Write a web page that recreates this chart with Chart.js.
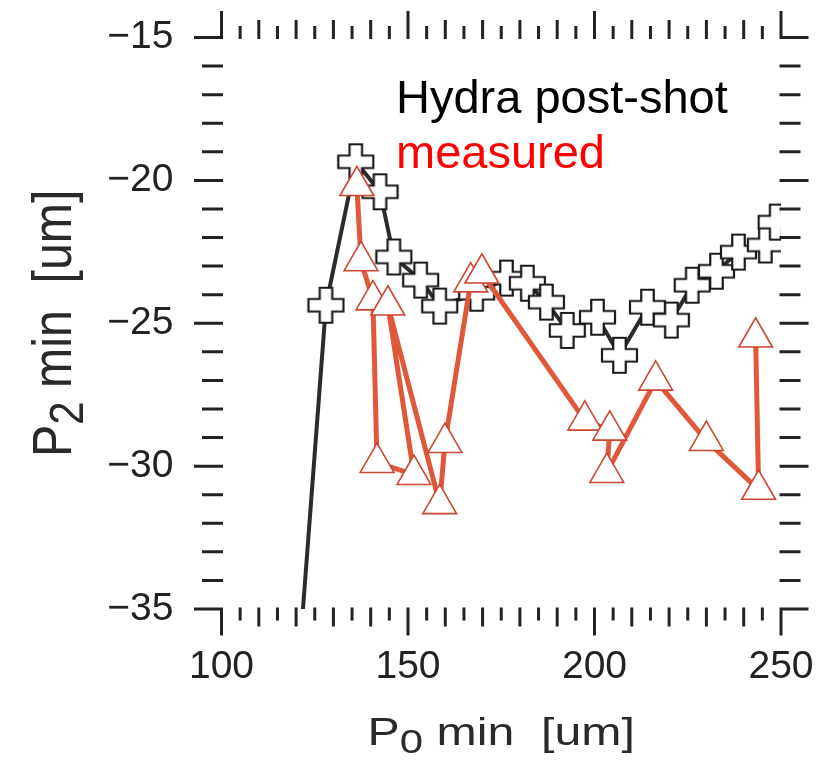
<!DOCTYPE html>
<html>
<head>
<meta charset="utf-8">
<script src="https://cdn.jsdelivr.net/npm/chart.js@4.4.1/dist/chart.umd.min.js"></script>
<style>
  html, body { margin: 0; padding: 0; background: #fff; }
  #wrap { width: 834px; height: 769px; }
</style>
</head>
<body>
<div id="wrap"><canvas id="myChart" width="834" height="769"></canvas></div>
<script>
//Hydra post-shot run: P0 min vs P2 min [um]
var hydraX = [120.1, 128.0, 136.0, 142.5, 146.2, 153.4, 158.5, 168.4, 176.4, 182.0, 187.1, 192.7, 200.8, 206.7, 214.2, 220.6, 226.2, 232.7, 238.6, 245.8, 248.7];
var hydraY = [-38.0, -24.37, -19.35, -20.40, -22.68, -23.49, -24.40, -23.95, -23.42, -23.60, -24.26, -25.25, -24.79, -26.12, -24.44, -24.89, -23.67, -23.18, -22.51, -22.26, -21.46];

//Measured shots, in shot order
var measX = [136.3, 137.4, 140.6, 141.7, 151.6, 144.6, 158.5, 159.9, 166.8, 169.8, 197.4, 204.1, 203.3, 216.4, 230.0, 244.0, 243.2];
var measY = [-20.19, -22.82, -24.19, -29.88, -30.30, -24.37, -31.32, -29.18, -23.56, -23.25, -28.40, -28.75, -30.23, -27.00, -29.11, -30.82, -25.49];

//Tick labels
var xTicks = [100, 150, 200, 250];
var yTicks = [-35, -30, -25, -20, -15];

var labelFont = '"Liberation Sans", Arial, Helvetica, sans-serif';

//Outlined plus marker with white fill
function makePlus(size, arm, lw) {
    var c = document.createElement('canvas');
    c.width = size + 2 * lw;
    c.height = size + 2 * lw;
    var g = c.getContext('2d');
    var h = size / 2, a = arm / 2;
    g.translate(c.width / 2, c.height / 2);
    g.beginPath();
    g.moveTo(-a, -h); g.lineTo(a, -h); g.lineTo(a, -a); g.lineTo(h, -a);
    g.lineTo(h, a); g.lineTo(a, a); g.lineTo(a, h); g.lineTo(-a, h);
    g.lineTo(-a, a); g.lineTo(-h, a); g.lineTo(-h, -a); g.lineTo(-a, -a);
    g.closePath();
    g.fillStyle = '#fff';
    g.fill();
    g.lineWidth = lw;
    g.strokeStyle = '#1a1a1a';
    g.stroke();
    return c;
}
var plusImg = makePlus(35, 12.5, 2.2);

function zip(xs, ys) {
    return xs.map(function(x, i) { return {x: x, y: ys[i]}; });
}

//Outward tick marks on all four sides, legend text and axis titles
var framePlugin = {
    id: 'frame',
    afterDraw: function(chart) {
        var ctx = chart.ctx, a = chart.chartArea;
        var xs = chart.scales.x, ys = chart.scales.y;
        ctx.save();
        ctx.strokeStyle = '#222';
        ctx.lineWidth = 3;
        ctx.lineCap = 'square';
        ctx.beginPath();
        for (var v = 100; v <= 250; v += 5) {
            var len = v % 50 === 0 ? 25 : (v % 10 === 0 ? 16 : 10);
            var px = xs.getPixelForValue(v);
            ctx.moveTo(px, a.bottom); ctx.lineTo(px, a.bottom + len);
            ctx.moveTo(px, a.top); ctx.lineTo(px, a.top - len);
        }
        for (var w = -35; w <= -15; w++) {
            var l2 = w % 5 === 0 ? 26 : 18;
            var py = ys.getPixelForValue(w);
            ctx.moveTo(a.left, py); ctx.lineTo(a.left - l2, py);
            ctx.moveTo(a.right, py); ctx.lineTo(a.right + l2, py);
        }
        ctx.stroke();

        //Series names
        ctx.font = '47px ' + labelFont;
        ctx.textAlign = 'left';
        ctx.textBaseline = 'alphabetic';
        ctx.fillStyle = '#000';
        ctx.fillText('Hydra post-shot', 396, 113);
        ctx.fillStyle = '#ff0000';
        ctx.fillText('measured', 396, 168);

        //Axis titles with subscripts
        ctx.fillStyle = '#2a2a2a';
        drawTitle(ctx, '0', (a.left + a.right) / 2, 745, 0, 1.27, 1.0);
        drawTitle(ctx, '2', 71, (a.top + a.bottom) / 2, -Math.PI / 2, 1.27, 1.45);
        ctx.restore();
    }
};

function drawTitle(ctx, sub, cx, cy, rot, sx, sy) {
    var big = '38px ' + labelFont, small = '33px ' + labelFont;
    ctx.font = big;
    var wP = ctx.measureText('P').width;
    var wRest = ctx.measureText(' min  [um]').width;
    ctx.font = small;
    var wSub = ctx.measureText(sub).width;
    var total = wP + wSub + wRest;
    ctx.save();
    ctx.translate(cx, cy);
    ctx.rotate(rot);
    ctx.scale(sx, sy);
    var x0 = -total / 2;
    ctx.font = big;
    ctx.fillText('P', x0, 0);
    ctx.font = small;
    ctx.fillText(sub, x0 + wP, 8);
    ctx.font = big;
    ctx.fillText(' min  [um]', x0 + wP + wSub, 0);
    ctx.restore();
}

//Keep the plot box fixed: no extra room for the end tick labels
function noEndPadding(s) {
    s.paddingTop = 0;
    s.paddingBottom = 0;
    s.paddingLeft = 0;
    s.paddingRight = 0;
}

var config = {
    type: 'line',
    data: {
        datasets: [
            {
                label: 'measured',
                data: zip(measX, measY),
                borderColor: '#de5839',
                borderWidth: 5,
                borderJoinStyle: 'round',
                pointStyle: 'triangle',
                pointRadius: 19.5,
                pointBorderWidth: 1.6,
                pointBorderColor: '#cc4632',
                pointBackgroundColor: '#fff',
                tension: 0,
                order: 0
            },
            {
                label: 'Hydra post-shot',
                data: zip(hydraX, hydraY),
                borderColor: '#2b2b2b',
                borderWidth: 4,
                borderJoinStyle: 'round',
                pointStyle: plusImg,
                pointRadius: 17,
                tension: 0,
                order: 1
            }
        ]
    },
    options: {
        responsive: false,
        animation: false,
        layout: { padding: { left: 0, right: 53, top: 37.5, bottom: 0 } },
        plugins: { legend: { display: false }, tooltip: { enabled: false } },
        scales: {
            x: {
                type: 'linear',
                min: 100,
                max: 250,
                afterBuildTicks: function(s) { s.ticks = xTicks.map(function(v) { return {value: v}; }); },
                afterFit: function(s) { s.height = 160; noEndPadding(s); },
                grid: { display: false },
                border: { display: false },
                ticks: {
                    color: '#222',
                    padding: 27,
                    maxRotation: 0,
                    font: { family: labelFont, size: 39 }
                }
            },
            y: {
                type: 'linear',
                min: -35,
                max: -15,
                afterBuildTicks: function(s) { s.ticks = yTicks.map(function(v) { return {value: v}; }); },
                afterFit: function(s) { s.width = 221.5; noEndPadding(s); },
                grid: { display: false },
                border: { display: false },
                ticks: {
                    color: '#222',
                    padding: 40,
                    font: { family: labelFont, size: 39 },
                    callback: function(v) { return String(v).replace('-', '\u2212'); }
                }
            }
        }
    },
    plugins: [framePlugin]
};

var canvas = document.getElementById('myChart').getContext('2d');
var myChart = new Chart(canvas, config);
</script>
</body>
</html>
